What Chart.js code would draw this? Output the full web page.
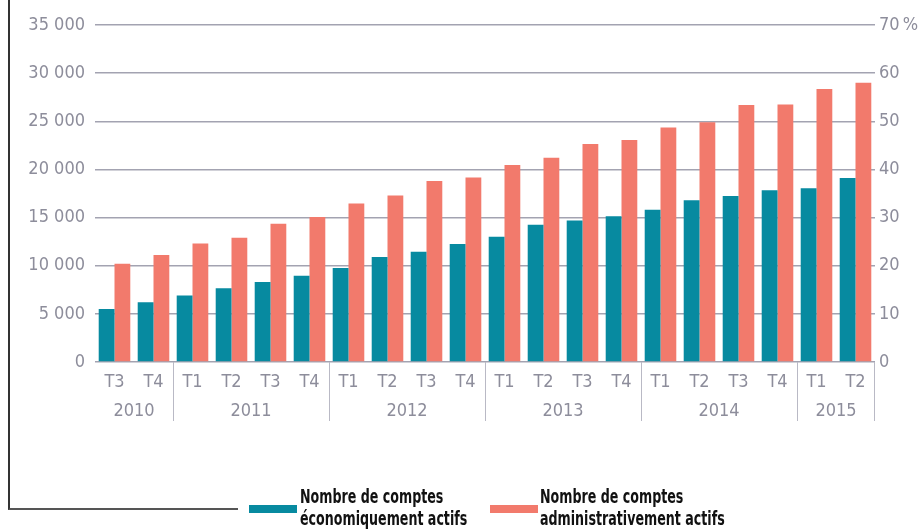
<!DOCTYPE html>
<html lang="fr">
<head>
  <meta charset="UTF-8" />
  <title>Comptes actifs</title>
  <script src="https://cdn.jsdelivr.net/npm/chart.js"></script>
  <style>
    body { margin: 0; background: #fff; }
    #wrap { position: relative; width: 922px; height: 529px; }
    #frame { position: absolute; left: 8px; top: 0; width: 228px; height: 508px;
             border-left: 2px solid #333; border-bottom: 2px solid #555; }
    .leg { position: absolute; top: 485px; font-family: 'DejaVu Sans Condensed', sans-serif;
           font-weight: bold; font-size: 19px; line-height: 22px; color: #111;
           white-space: nowrap; transform: scaleX(0.74); transform-origin: left top; }
    .sw { position: absolute; top: 505px; width: 48px; height: 8px; }
  </style>
</head>
<body>
  <div id="wrap">
    <div id="frame"></div>
    <canvas id="chart" width="922" height="529"></canvas>
    <div class="sw" style="left:249px;background:#078aa0"></div>
    <div class="leg" style="left:300px">Nombre de comptes<br>économiquement actifs</div>
    <div class="sw" style="left:490px;background:#f27a6c"></div>
    <div class="leg" style="left:540px">Nombre de comptes<br>administrativement actifs</div>
  </div>

  <script>
    // Données
    const quarters = ['T3','T4','T1','T2','T3','T4','T1','T2','T3','T4','T1','T2','T3','T4','T1','T2','T3','T4','T1','T2'];
    const years = ['2010','2011','2012','2013','2014','2015'];
    const yearCounts = [2, 4, 4, 4, 4, 2];
    const economiques = [5500, 6200, 6900, 7650, 8300, 8950, 9750, 10900, 11450, 12250,
                         13000, 14250, 14700, 15150, 15800, 16800, 17250, 17850, 18050, 19100];
    const administratifs = [10200, 11100, 12300, 12900, 14350, 15050, 16450, 17300, 18800, 19150,
                            20450, 21200, 22650, 23050, 24350, 24900, 26700, 26750, 28350, 29000];

    const FONT = "'DejaVu Sans Condensed', sans-serif";
    const GREY = '#8d8d9b';

    // Années + séparateurs sous l'axe
    const yearAxis = {
      id: 'yearAxis',
      afterDraw(chart) {
        const ctx = chart.ctx, x = chart.scales.x, bottom = chart.chartArea.bottom;
        ctx.save();
        ctx.strokeStyle = '#b9b9c5';
        ctx.lineWidth = 1;
        ctx.fillStyle = GREY;
        ctx.font = '18px ' + FONT;
        ctx.textAlign = 'center';
        ctx.textBaseline = 'middle';
        let start = 0;
        yearCounts.forEach((n, i) => {
          const end = start + n - 1;
          const cx = (x.getPixelForValue(start) + x.getPixelForValue(end)) / 2;
          ctx.fillText(years[i], cx, 411);
          if (i > 0) {
            const sx = Math.round((x.getPixelForValue(start - 1) + x.getPixelForValue(start)) / 2) + 0.5;
            ctx.beginPath(); ctx.moveTo(sx, bottom); ctx.lineTo(sx, 421); ctx.stroke();
          }
          start += n;
        });
        const rx = Math.round(chart.chartArea.right) - 0.5;
        ctx.beginPath(); ctx.moveTo(rx, bottom); ctx.lineTo(rx, 421); ctx.stroke();
        ctx.restore();
      }
    };

    new Chart(document.getElementById('chart'), {
      type: 'bar',
      data: {
        labels: quarters,
        datasets: [
          { label: 'Nombre de comptes économiquement actifs', data: economiques, backgroundColor: '#078aa0' },
          { label: 'Nombre de comptes administrativement actifs', data: administratifs, backgroundColor: '#f27a6c' }
        ]
      },
      options: {
        responsive: false,
        animation: false,
        categoryPercentage: 0.81,
        barPercentage: 1,
        layout: { padding: { top: 25, left: 0, right: 0, bottom: 0 } },
        plugins: { legend: { display: false }, tooltip: { enabled: false } },
        scales: {
          x: {
            grid: { display: false },
            border: { display: false },
            ticks: { color: GREY, font: { family: FONT, size: 18 }, padding: 2 },
            afterFit(s) { s.height = 167; }
          },
          y: {
            min: 0, max: 35000,
            ticks: {
              stepSize: 5000, color: GREY, padding: 10,
              font: { family: FONT, size: 18 },
              callback: v => String(v).replace(/\B(?=(\d{3})+(?!\d))/g, ' ')
            },
            grid: { color: '#a3a3b1', lineWidth: 1.5, drawTicks: false },
            border: { display: false },
            afterFit(s) { s.width = 95; }
          },
          y1: {
            position: 'right',
            min: 0, max: 70,
            ticks: {
              stepSize: 10, color: GREY, padding: 4,
              font: { family: FONT, size: 18 },
              callback: v => v === 70 ? '70\u202F%' : v
            },
            grid: { display: false, drawTicks: false },
            border: { display: false },
            afterFit(s) { s.width = 47; }
          }
        }
      },
      plugins: [yearAxis]
    });
  </script>
</body>
</html>
